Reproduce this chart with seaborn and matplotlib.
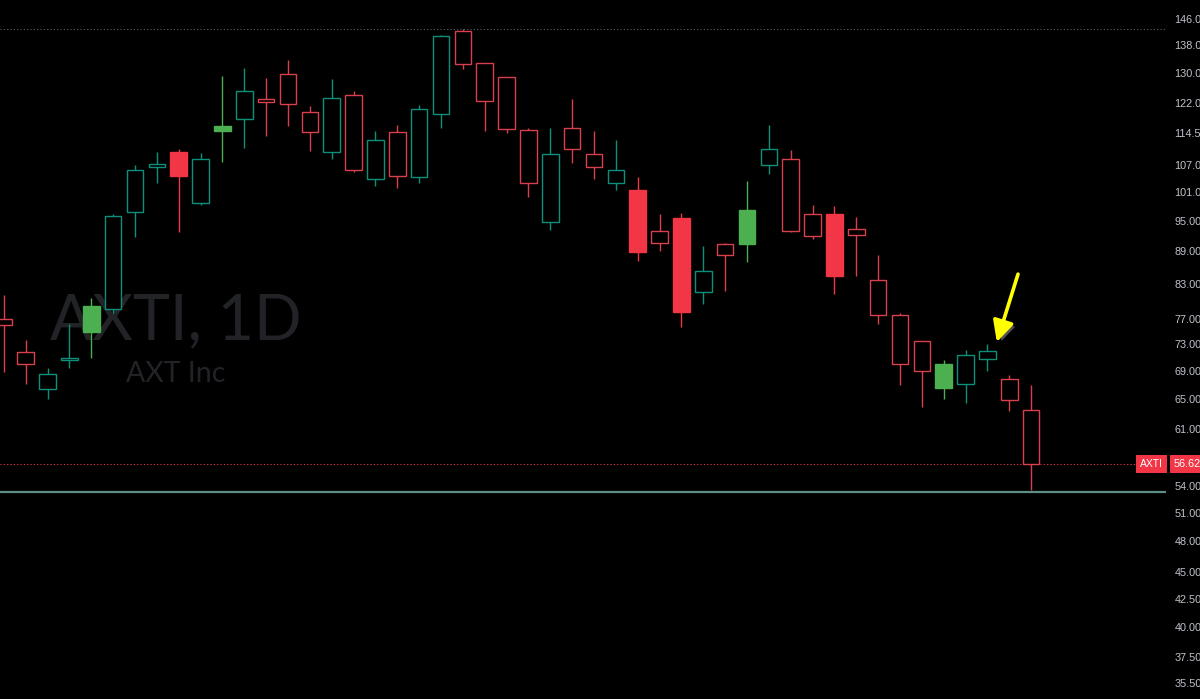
import numpy as np
import pandas as pd
import matplotlib
matplotlib.use("Agg")
import matplotlib.pyplot as plt
import matplotlib.patheffects as pe
import matplotlib.transforms as mtransforms
from matplotlib.ticker import FixedLocator, NullLocator, FixedFormatter
import seaborn as sns

# ---------------- data (daily OHLC) ----------------
opens = [77.0, 71.9, 66.4, 70.7, 74.9, 78.7, 96.7, 106.6, 109.9, 98.7,
         115.0, 118.1, 123.0, 129.8, 119.7, 109.9, 124.1, 103.8, 114.7, 104.3,
         119.3, 142.4, 132.8, 129.0, 115.3, 94.8, 115.7, 109.5, 103.0, 101.5,
         92.9, 95.6, 81.6, 90.4, 90.4, 107.0, 108.3, 96.3, 96.4, 93.4,
         83.8, 77.7, 73.5, 66.6, 67.1, 70.8, 67.9, 63.5]
highs = [81.1, 73.7, 69.4, 76.3, 80.6, 96.4, 107.0, 109.9, 110.6, 109.8,
         129.3, 131.5, 128.7, 133.8, 121.4, 128.4, 125.3, 114.9, 116.5, 121.6,
         141.2, 142.9, 132.9, 129.1, 115.7, 115.8, 123.1, 114.9, 112.8, 104.3,
         96.4, 96.5, 90.0, 90.7, 103.5, 116.5, 110.5, 98.2, 98.1, 95.7,
         88.3, 78.1, 73.6, 70.6, 72.15, 73.1, 68.4, 66.9]
lows = [68.9, 67.1, 65.0, 69.4, 71.0, 78.1, 91.8, 102.9, 92.8, 98.2,
        107.7, 111.0, 113.7, 116.3, 110.1, 108.3, 105.3, 102.2, 101.9, 103.0,
        115.8, 131.3, 115.0, 114.4, 99.9, 93.2, 107.5, 103.8, 101.5, 87.2,
        89.0, 75.8, 79.5, 81.8, 87.1, 105.0, 92.8, 91.3, 81.2, 84.4,
        76.3, 67.0, 63.9, 65.0, 64.4, 69.0, 63.4, 53.5]
closes = [76.1, 70.1, 68.6, 71.0, 79.2, 95.9, 105.8, 107.3, 104.6, 108.3,
          116.2, 125.3, 122.4, 121.8, 114.7, 123.3, 105.8, 112.8, 104.4, 120.5,
          140.7, 132.7, 122.6, 115.5, 103.0, 109.4, 110.7, 106.5, 105.8, 88.8,
          90.6, 78.2, 85.3, 88.3, 97.1, 110.6, 92.9, 91.9, 84.4, 92.2,
          77.8, 70.1, 69.0, 70.1, 71.4, 72.0, 64.9, 56.62]
filled = [0, 0, 0, 0, 1, 0, 0, 0, 1, 0,
          1, 0, 0, 0, 0, 0, 0, 0, 0, 0,
          0, 0, 0, 0, 0, 0, 0, 0, 0, 1,
          0, 1, 0, 0, 1, 0, 0, 0, 1, 0,
          0, 0, 0, 1, 0, 0, 0, 0]

price_ticks = [146, 138, 130, 122, 114.5, 107, 101, 95, 89, 83, 77, 73, 69,
               65, 61, 54, 51, 48, 45, 42.5, 40, 37.5, 35.5]
last_price = 56.62
support_level = 53.3
ticker = "AXTI"
interval = "1D"
company = "AXT Inc"
marked_bar = 45

# ---------------- style ----------------
sns.set_theme(style="dark", rc={"axes.facecolor": "black",
                                "figure.facecolor": "black",
                                "axes.grid": False})
plt.rcParams["font.family"] = ["Liberation Sans", "DejaVu Sans"]

TEAL = "#0e8f7b"
GREEN = "#4caf50"
RED_FILL = "#f23645"
RED_LINE = "#d9404e"

df = pd.DataFrame({"open": opens, "high": highs, "low": lows,
                   "close": closes, "filled": filled})
df["x"] = np.arange(len(df))
df["up"] = df["close"] >= df["open"]

def edge_color(r):
    if r.up:
        return GREEN if r.filled else TEAL
    return RED_FILL if r.filled else RED_LINE

def face_color(r):
    if r.filled:
        return GREEN if r.up else RED_FILL
    return "black"

df["edge"] = [edge_color(r) for r in df.itertuples()]
df["face"] = [face_color(r) for r in df.itertuples()]
df["bottom"] = df[["open", "close"]].min(axis=1)
df["height"] = (df["open"] - df["close"]).abs()

fig = plt.figure(figsize=(12, 6.99), dpi=100)
fig.patch.set_facecolor("black")
ax = fig.add_axes([0, 0, 1166 / 1200, 1])
ax.set_facecolor("black")

# watermark
ax.text(0.151, 0.514, f"{ticker}, {interval}", transform=ax.transAxes,
        ha="center", va="baseline", fontsize=45, color="#222327",
        family=["Lato", "DejaVu Sans"], zorder=0)
ax.text(0.151, 0.454, company, transform=ax.transAxes,
        ha="center", va="baseline", fontsize=20.5, color="#222327",
        family=["Lato", "DejaVu Sans"], zorder=0)

# horizontal reference lines
ax.axhline(max(highs), color="#5d606b", ls=(0, (1, 2)), lw=0.8, zorder=1)
ax.axhline(last_price, color=RED_FILL, ls=(0, (1, 2)), lw=0.8, zorder=1)
ax.axhline(support_level, color="#5f8e86", lw=1.6, zorder=1)

# candles
ax.vlines(df["x"], df["low"], df["high"], colors=df["edge"], lw=1.0, zorder=2)
ax.bar(df["x"], df["height"], bottom=df["bottom"], width=0.76,
       color=df["face"], edgecolor=df["edge"], linewidth=1.0, zorder=3)

# arrow pointing at the marked bar
ax.annotate("", xy=(marked_bar + 0.43, highs[marked_bar] * 1.004),
            xytext=(marked_bar + 1.4, highs[marked_bar] * 1.16),
            arrowprops=dict(arrowstyle="-|>,head_length=0.9,head_width=0.45",
                            color="#ffff00", lw=2.6, mutation_scale=14,
                            shrinkA=0, shrinkB=0,
                            path_effects=[pe.SimplePatchShadow(offset=(2.5, -2),
                                                               shadow_rgbFace="#777777",
                                                               alpha=0.7),
                                          pe.Normal()]),
            zorder=5)

# axes
ax.set_yscale("log")
ax.set_ylim(34.32, 152.0)
ax.set_xlim(-0.174, 53.17)
ax.yaxis.tick_right()
ax.yaxis.set_major_locator(FixedLocator(price_ticks))
ax.yaxis.set_major_formatter(FixedFormatter([f"{v:.2f}" for v in price_ticks]))
ax.yaxis.set_minor_locator(NullLocator())
ax.tick_params(axis="y", length=0, pad=6, labelsize=7.8, labelcolor="#c0c3cb")
ax.set_xticks([])
for s in ax.spines.values():
    s.set_visible(False)

# last price labels
trans = mtransforms.blended_transform_factory(ax.transAxes, ax.transData)
ax.text(1.0 - 3 / 1166, last_price, ticker, transform=trans, ha="right",
        va="center", color="white", fontsize=7.5, clip_on=False, zorder=6,
        bbox=dict(boxstyle="square,pad=0.4", fc=RED_FILL, ec="none"))
ax.text(1.0 + 8 / 1166, last_price, f"{last_price:.2f}", transform=trans,
        ha="left", va="center", color="white", fontsize=7.8, clip_on=False,
        zorder=6, bbox=dict(boxstyle="square,pad=0.4", fc=RED_FILL, ec="none"))

fig.savefig("out.png", dpi=100, facecolor="black")
